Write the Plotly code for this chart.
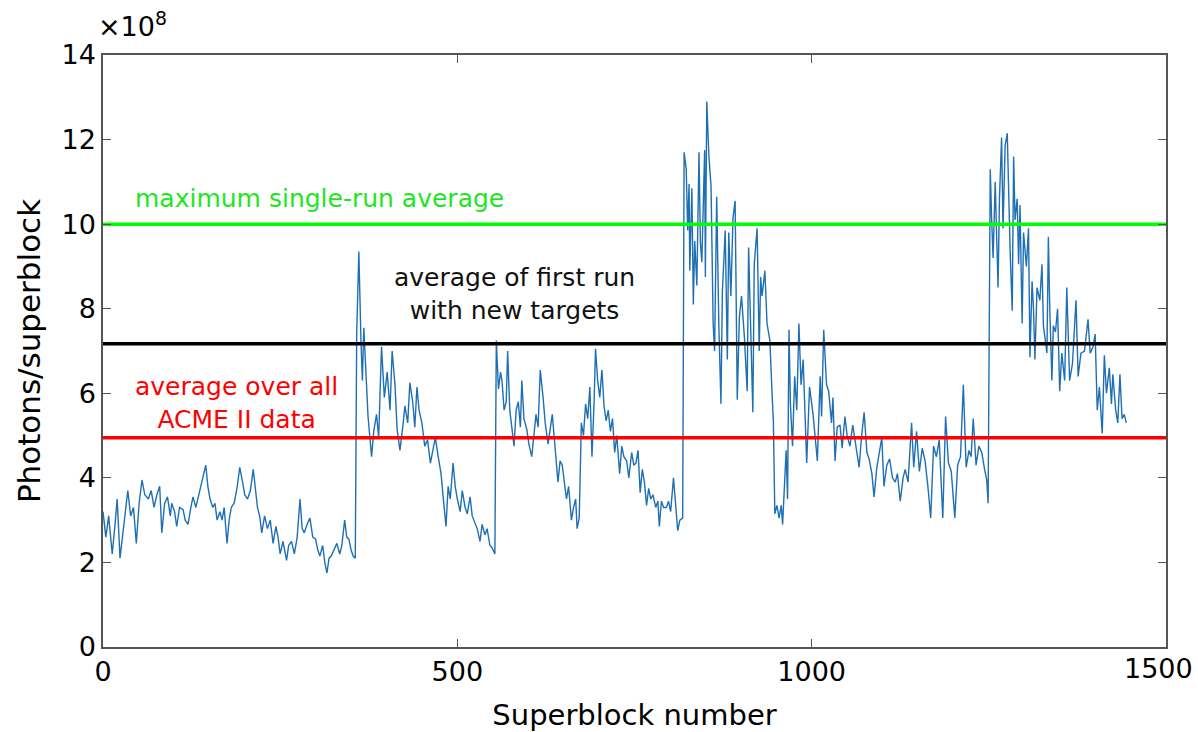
import plotly.graph_objects as go

# Superblock number (x) and photons/superblock in units of 1e8 (y)
seg1_x = [0,4,8,13,17,20,24,28,31,35,39,43,47,51,55,59,64,68,72,76,80,83,87,91,95,97,101,104,108,113,116,120,124,127,131,135,139,145,148,151,155,158,161,165,168,171,175,178,181,185,189,193,197,200,204,208,212,215,218,221,224,228,232,236,240,244,247,250,254,259,262,266,270,274,278,281,284,288,292,296,300,303,306,310,313,316,319,322,326,330,334,337,341,344,347,350,353,356]
seg1_y = [3.2,2.6,3.1,2.2,2.9,3.5,2.1,2.7,3.0,3.7,3.1,3.3,2.45,3.4,3.95,3.6,3.5,3.7,3.3,3.6,3.8,2.7,3.4,3.55,3.1,3.4,3.2,2.85,3.3,3.25,3.0,2.9,3.3,3.55,3.3,3.6,3.9,4.3,3.8,3.5,3.3,3.4,3.0,3.2,3.0,3.3,2.45,3.0,3.3,3.4,3.75,4.25,3.9,3.6,3.5,3.7,4.2,3.7,3.3,3.1,2.7,3.1,2.8,3.0,2.45,2.85,2.6,2.2,2.5,2.05,2.4,2.5,2.2,2.6,3.5,2.8,2.7,2.9,3.05,2.6,2.55,2.3,2.15,2.4,2.0,1.75,2.1,2.15,2.3,2.45,2.2,2.4,3.0,2.6,2.55,2.3,2.15,2.1]

seg2_x = [358,361,364,366,368,371,374,379,382,386,389,393,397,401,405,408,412,415,419,423,426,430,433,437,440,443,446,450,454,458,462,466,469,473,477,480,484,487,490,494,497,500,504,507,511,514,518,521,525,528,532,535,539,542,546,549,553]
seg2_y = [7.4,9.35,7.25,6.3,7.55,6.5,5.45,4.5,5.1,5.5,4.95,7.1,5.9,6.5,5.6,7.0,6.2,5.15,4.65,5.2,5.7,5.3,6.25,5.8,5.2,6.15,5.6,5.3,4.75,4.9,4.35,4.7,4.95,4.5,4.1,3.55,2.85,3.8,3.5,4.35,3.8,3.5,3.2,3.7,3.3,3.15,3.55,3.1,2.95,2.8,2.5,2.9,2.65,2.8,2.4,2.35,2.2]

seg3_x = [555,558,561,563,566,569,571,574,577,580,583,586,589,591,594,598,601,605,608,611,614,617,621,624,628,631,634,638,642,645,648,651,654,657,661,664,667,669,672,675,678,681,684,687,690,693,695,698,701,704,707,710,713,716,719,722,725,729,732,735,739,742,746,749,752,755,758,761,764,767,770,773,776,780,783,785,788,791,795,798,801,805,808,811,814,818]
seg3_y = [7.25,6.1,6.5,6.3,5.6,5.8,7.0,5.6,5.1,4.75,5.6,5.8,5.2,6.3,5.4,5.15,4.8,4.5,5.0,5.5,5.2,6.55,5.9,5.3,4.8,5.1,5.5,4.7,3.9,4.4,4.3,3.9,3.5,3.8,3.0,3.3,3.5,2.8,3.05,5.3,5.0,5.75,5.4,6.15,4.5,5.8,7.05,6.3,5.9,6.55,5.7,5.35,5.6,5.1,5.4,4.6,5.0,4.1,4.75,4.5,4.4,4.0,4.6,4.3,4.35,4.65,3.65,4.2,3.9,3.35,3.75,3.5,3.6,3.3,3.45,2.85,3.45,3.3,3.3,3.45,3.2,4.0,3.3,2.75,3.0,3.05]

seg4_x = [820,823,825,827,828,831,833,835,838,841,843,845,849,850,852,855,858,861,863,864,866,869,872,874,878,881,883,886,889,892,895,898,901,905,909,911,914,917,919,923,926,928,930,934,937,941,944,946,948,951,954,957,959,962,964,966]
seg4_y = [11.7,11.3,9.85,10.95,8.9,10.85,8.1,9.6,8.55,11.7,9.55,9.1,11.75,8.75,12.9,11.6,10.9,7.65,7.0,8.5,10.65,7.6,5.75,8.4,9.85,6.8,9.8,8.3,10.15,10.55,5.85,7.8,8.3,7.35,6.05,9.45,7.7,5.55,9.05,9.9,7.0,8.75,8.3,8.9,7.65,7.25,6.05,5.3,3.15,3.35,3.05,3.35,2.9,3.8,4.65,3.5]

seg5_x = [968,970,973,976,979,982,985,988,993,997,1002,1008,1012,1014,1017,1021,1024,1028,1030,1033,1036,1040,1043,1047,1050,1054,1058,1062,1067,1070,1074,1078,1081,1085,1088,1092,1095,1099,1102,1106,1110,1114,1118,1121,1125,1129,1132,1136,1141,1144,1148,1152,1156,1160,1164,1168,1172,1176,1180,1185,1189,1193,1197,1202,1206,1210,1214,1218,1222,1225,1228,1232,1236,1240,1244,1247,1249]
seg5_y = [7.5,5.75,4.75,6.4,5.6,7.65,6.2,6.8,4.35,6.15,5.5,4.4,6.4,5.45,7.5,6.2,6.05,5.3,5.9,4.4,5.2,5.25,4.7,5.45,5.0,4.75,5.25,4.8,4.25,4.9,5.55,4.6,4.45,4.1,3.55,4.25,4.6,4.95,3.8,4.3,4.45,4.0,3.9,4.1,3.45,4.0,4.2,3.9,5.3,4.25,5.1,4.15,4.7,4.4,3.8,3.05,4.75,4.5,4.9,3.05,5.45,4.35,4.15,3.05,4.3,4.5,6.2,4.25,4.65,4.5,5.4,4.3,4.75,4.6,4.2,3.95,3.4]

seg6_x = [1252,1254,1256,1259,1261,1263,1265,1268,1270,1273,1276,1278,1280,1283,1285,1287,1290,1292,1294,1297,1299,1303,1306,1308,1311,1313,1315,1318,1322,1325,1327,1332,1334,1336,1339,1341,1344,1347,1350,1353,1357,1360,1364,1368,1373,1376,1380,1385,1390,1393,1397,1400,1403,1406,1410,1413,1416,1420,1423,1425,1429,1432,1435,1438,1441,1444]
seg6_y = [11.3,10.1,9.2,11.0,9.65,8.5,10.6,12.05,9.9,11.85,12.15,10.45,9.4,7.95,11.6,10.1,10.6,9.05,10.45,7.65,9.8,9.0,9.9,6.85,8.65,8.0,6.8,8.5,8.2,9.05,7.6,6.95,9.7,8.0,6.3,7.6,7.45,8.0,6.05,6.95,6.3,8.5,6.3,6.7,8.2,6.4,6.95,7.0,7.75,6.95,7.1,7.4,5.6,6.15,5.05,6.9,6.0,6.6,5.75,6.45,5.6,5.3,6.45,5.4,5.5,5.3]

superblock = seg1_x + seg2_x + seg3_x + seg4_x + seg5_x + seg6_x
photons = seg1_y + seg2_y + seg3_y + seg4_y + seg5_y + seg6_y

# Reference levels (units of 1e8)
max_single_run = 10.0
first_run_new_targets = 7.17
all_acme2_average = 4.95

x_ticks = [0, 500, 1000]
x_last_tick = 1500
y_ticks = [0, 2, 4, 6, 8, 10, 12, 14]

FONT = "DejaVu Sans"

fig = go.Figure()
fig.add_trace(go.Scatter(x=superblock, y=photons, mode="lines",
                         line=dict(color="#1f6fb4", width=1.4), showlegend=False))
for lvl, col in [(max_single_run, "#00ff00"), (first_run_new_targets, "#000000"),
                 (all_acme2_average, "#ff0000")]:
    fig.add_trace(go.Scatter(x=[0, 1500], y=[lvl, lvl], mode="lines",
                             line=dict(color=col, width=3.5), showlegend=False))

fig.add_annotation(x=42, y=10.6, text="maximum single-run average", showarrow=False,
                   xanchor="left", yanchor="middle", font=dict(family=FONT, size=25, color="#1ee61e"))
fig.add_annotation(x=581, y=8.35, text="average of first run<br>with new targets", showarrow=False,
                   xanchor="center", yanchor="middle", align="center",
                   font=dict(family=FONT, size=25, color="#111111"))
fig.add_annotation(x=189, y=5.77, text="average over all<br>ACME II data", showarrow=False,
                   xanchor="center", yanchor="middle", align="center",
                   font=dict(family=FONT, size=25, color="#ff0000"))
fig.add_annotation(xref="paper", yref="paper", x=0.028, y=1.052, text="×10<sup>8</sup>",
                   showarrow=False, xanchor="center", yanchor="middle",
                   font=dict(family=FONT, size=27, color="#000000"))
# last x tick label, shifted so it stays inside the page as in the reference
fig.add_annotation(x=x_last_tick, y=0, yref="paper", text=str(x_last_tick), showarrow=False,
                   xanchor="center", yanchor="top", xshift=-8, yshift=-4,
                   font=dict(family=FONT, size=27, color="#000000"))

axis_common = dict(showline=True, linecolor="#555555", linewidth=1.5, mirror="ticks",
                   ticks="inside", ticklen=8, tickcolor="#555555", showgrid=False, zeroline=False,
                   automargin=False,
                   tickfont=dict(family=FONT, size=27, color="#000000"))
fig.update_xaxes(range=[0, 1500], tickvals=x_ticks, ticktext=[str(v) for v in x_ticks],
                 title=dict(text="Superblock number", font=dict(family=FONT, size=29, color="#000000"),
                            standoff=22), **axis_common)
fig.update_yaxes(range=[0, 14], tickvals=y_ticks, ticktext=[str(v) for v in y_ticks],
                 title=dict(text="Photons/superblock", font=dict(family=FONT, size=31, color="#000000"),
                            standoff=12), **axis_common)
fig.update_layout(width=1198, height=732, margin=dict(l=103, r=32, t=55, b=85),
                  paper_bgcolor="white", plot_bgcolor="white", font=dict(family=FONT))
fig.write_html("out.html")
